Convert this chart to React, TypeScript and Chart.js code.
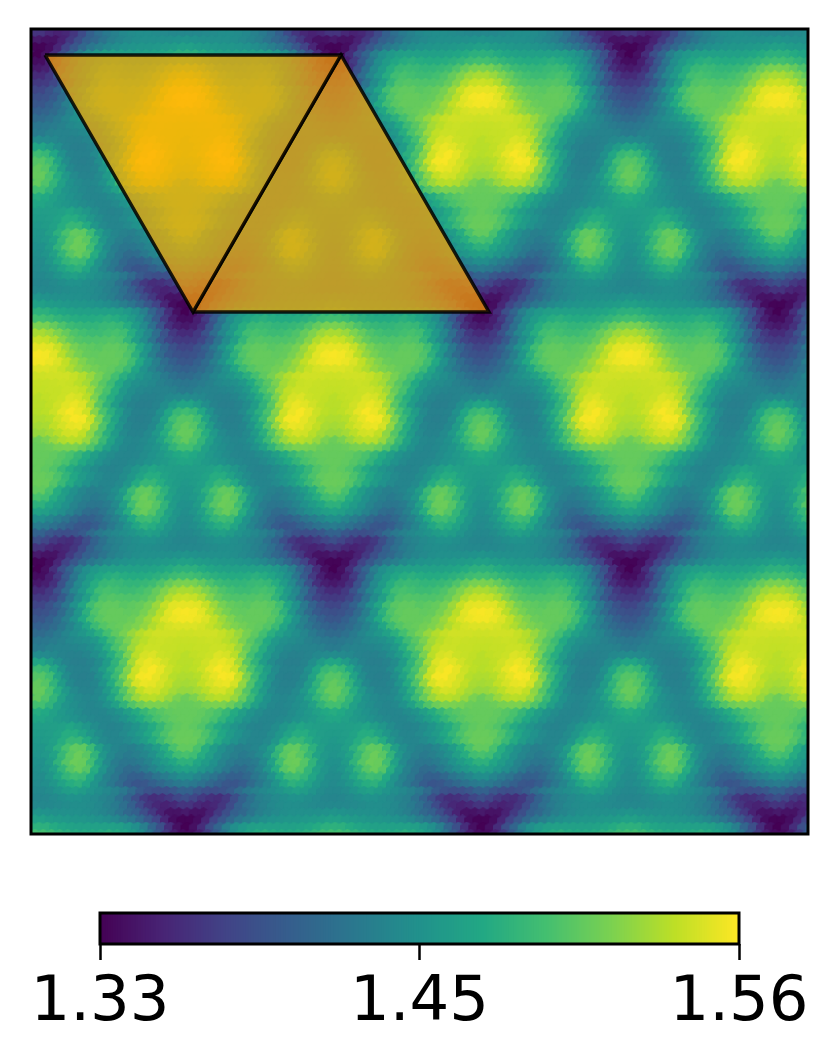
import React, { useEffect, useRef } from "react";
import { Chart, registerables } from "chart.js";

Chart.register(...registerables);

// Values in thousandths above 1.300, read off one repeat of the pattern
// (left half; the pattern mirrors about its vertical axes). Rows alternate 19 / 18 entries.
const tileRows: number[][] = [
  [30,40,60,85,105,128,143,152,158,160,160,160,160,160,162,165,170,175,176],
  [38,50,70,95,120,142,155,165,172,175,172,170,170,172,175,180,186,190],
  [45,50,62,88,115,138,155,172,182,185,183,180,180,182,186,195,205,212,214],
  [58,68,88,112,135,152,172,188,192,190,186,186,190,195,205,215,225,230],
  [68,70,78,95,118,140,158,180,195,198,196,195,195,198,205,218,232,240,242],
  [78,88,102,122,145,165,188,200,203,203,200,202,205,212,226,240,250,252],
  [85,88,95,110,128,150,175,195,203,205,205,203,205,212,222,236,250,256,258],
  [92,100,112,128,146,168,188,200,205,205,205,208,216,226,238,248,254,256],
  [100,104,110,120,132,146,165,185,197,203,206,210,215,222,232,240,246,248,248],
  [110,116,124,134,142,150,160,174,190,202,212,224,234,240,244,244,244,243],
  [120,122,126,130,136,140,144,152,168,186,200,214,228,236,241,242,241,240,240],
  [125,130,132,132,134,136,142,152,172,192,206,226,238,242,242,240,240,239],
  [140,138,136,132,130,130,134,142,154,172,190,214,236,246,248,242,240,238,236],
  [165,155,142,132,128,128,132,140,156,178,200,228,248,254,250,244,238,236],
  [188,182,166,145,132,130,130,138,155,174,193,218,243,254,258,252,242,237,235],
  [198,188,162,140,130,128,130,142,162,185,212,240,256,258,252,244,235,232],
  [204,198,178,155,136,130,130,134,148,170,195,222,246,254,252,246,238,230,228],
  [205,192,172,152,138,132,132,138,154,174,198,220,238,246,244,236,228,224],
  [204,195,180,160,145,138,135,136,145,162,184,206,224,234,236,232,224,214,208],
  [190,178,160,148,142,136,134,136,146,160,178,196,208,214,214,212,208,206],
  [172,168,160,152,146,140,135,134,135,140,147,158,170,182,193,199,203,205,205],
  [165,160,154,150,146,140,136,134,134,138,146,156,168,180,192,199,203,205],
  [157,157,158,160,165,158,150,140,134,132,134,140,148,158,170,182,196,202,205],
  [155,157,162,172,172,162,150,140,134,134,138,146,154,166,180,194,203,206],
  [152,155,160,172,182,182,170,150,138,134,134,138,146,156,170,184,198,206,207],
  [150,158,175,192,203,202,185,158,142,134,130,128,135,144,156,172,192,203],
  [148,152,162,182,200,208,200,178,150,136,128,124,128,135,144,158,172,188,192],
  [145,155,178,198,208,206,188,160,138,126,120,120,125,133,145,155,165,176],
  [142,148,160,180,198,206,198,172,148,130,118,110,112,122,132,142,150,158,162],
  [140,150,165,180,188,185,168,146,130,120,108,100,100,108,118,126,134,142],
  [138,142,150,162,172,176,165,148,134,122,110,98,90,92,100,108,116,122,126],
  [136,140,148,156,160,155,148,142,136,130,122,110,96,88,84,86,92,102],
  [134,135,138,142,146,146,142,138,133,128,116,102,84,68,60,62,68,78,85],
  [136,136,138,140,142,142,140,136,130,124,114,100,82,66,56,52,56,64],
  [148,146,144,144,144,144,142,138,134,128,118,108,100,84,68,52,42,42,46],
  [160,156,154,152,150,150,148,146,142,136,128,120,108,92,76,54,38,32],
];

const colorbarTicks = [1.33, 1.445, 1.56];
const colorbarLabels = ["1.33", "1.45", "1.56"];
const vMin = 1.33;
const vMax = 1.56;

// Triangles overlaid on the map, in map units (pixels of the plot box).
const triangleA = [{ x: 14, y: 26 }, { x: 310, y: 26 }, { x: 162, y: 283 }, { x: 14, y: 26 }];
const triangleB = [{ x: 162, y: 283 }, { x: 310, y: 26 }, { x: 458, y: 283 }, { x: 162, y: 283 }];

const viridisStops = [
  [68, 1, 84], [72, 36, 117], [65, 68, 135], [53, 95, 141], [42, 120, 142], [33, 145, 140],
  [34, 168, 132], [68, 191, 112], [122, 209, 81], [189, 223, 38], [253, 231, 37],
];

const PLOT_W = 777;
const PLOT_H = 805;
const ORIGIN_X = 156;
const ORIGIN_Y = 285;
const CELL_W = 296 / 36;
const CELL_H = 257.5 / 36;
const HEX_R = 7.5;

function viridis(t: number): string {
  const c = Math.min(1, Math.max(0, t)) * 10;
  const i = Math.min(9, Math.floor(c));
  const f = c - i;
  const a = viridisStops[i];
  const b = viridisStops[i + 1];
  return `rgb(${Math.round(a[0] + (b[0] - a[0]) * f)},${Math.round(a[1] + (b[1] - a[1]) * f)},${Math.round(a[2] + (b[2] - a[2]) * f)})`;
}

function hexSprites(): HTMLCanvasElement[] {
  const out: HTMLCanvasElement[] = [];
  const size = Math.ceil(HEX_R * 2);
  for (let i = 0; i < 256; i++) {
    const cv = document.createElement("canvas");
    cv.width = size;
    cv.height = size;
    const c = cv.getContext("2d")!;
    c.fillStyle = viridis(i / 255);
    c.beginPath();
    for (let k = 0; k < 6; k++) {
      const ang = Math.PI / 6 + (k * Math.PI) / 3;
      const px = size / 2 + HEX_R * Math.cos(ang);
      const py = size / 2 + HEX_R * Math.sin(ang);
      if (k === 0) c.moveTo(px, py);
      else c.lineTo(px, py);
    }
    c.closePath();
    c.fill();
    out.push(cv);
  }
  return out;
}

function readCell(row: number, col: number): number {
  const q = Math.floor(row / 36);
  const rr = row - 36 * q;
  const half = tileRows[rr];
  const odd = rr % 2 === 1;
  const k = (((col - 18 * q) % 36) + 36) % 36;
  const m = odd ? (k <= 17 ? half[k] : half[35 - k]) : k <= 18 ? half[k] : half[36 - k];
  return 1.3 + m / 1000;
}

function buildCells() {
  const pts: { x: number; y: number; v: number }[] = [];
  for (let r = -41; r <= 75; r++) {
    for (let k = -24; k <= 80; k++) {
      const x = ORIGIN_X + (k + (Math.abs(r) % 2 === 1 ? 0.5 : 0)) * CELL_W;
      const y = ORIGIN_Y + r * CELL_H;
      if (x < -10 || x > PLOT_W + 10 || y < -10 || y > PLOT_H + 10) continue;
      pts.push({ x, y, v: readCell(r, k) });
    }
  }
  return pts;
}

export default function App() {
  const mapRef = useRef<HTMLCanvasElement>(null);
  const barRef = useRef<HTMLCanvasElement>(null);

  useEffect(() => {
    const sprites = hexSprites();
    const frame = {
      id: "frame",
      afterDraw(chart: any) {
        const { left, top, width, height } = chart.chartArea;
        const c = chart.ctx;
        c.save();
        c.strokeStyle = "#000";
        c.lineWidth = 3;
        c.strokeRect(left, top, width, height);
        c.restore();
      },
    };
    const triangle = (data: any[]) => ({
      type: "scatter" as const,
      data,
      showLine: true,
      fill: "shape",
      backgroundColor: "rgba(255,165,0,0.7)",
      borderColor: "rgba(0,0,0,0.85)",
      borderWidth: 3.5,
      pointRadius: 0,
      order: 0,
      tension: 0,
      clip: 0,
    });
    const map = new Chart(mapRef.current!, {
      type: "scatter",
      data: {
        datasets: [
          triangle(triangleA),
          triangle(triangleB),
          {
            data: buildCells(),
            order: 1,
            clip: 0,
            pointRadius: HEX_R,
            pointStyle: (ctx: any) =>
              ctx.raw ? sprites[Math.round(Math.min(1, Math.max(0, (ctx.raw.v - vMin) / (vMax - vMin))) * 255)] : "circle",
          },
        ] as any,
      },
      options: {
        animation: false,
        responsive: false,
        events: [],
        layout: { padding: { left: 31, top: 29, right: 30, bottom: 46 } },
        plugins: { legend: { display: false }, tooltip: { enabled: false } },
        scales: {
          x: { type: "linear", min: 0, max: PLOT_W, display: false },
          y: { type: "linear", min: 0, max: PLOT_H, reverse: true, display: false },
        },
      },
      plugins: [frame],
    });

    const levels: number[] = [];
    for (let i = 0; i < 256; i++) levels.push(vMin + ((vMax - vMin) * i) / 255);
    const bar = new Chart(barRef.current!, {
      type: "bar",
      data: {
        datasets: [
          {
            data: levels.map((v) => ({ x: v, y: 1 })),
            backgroundColor: levels.map((_, i) => viridis(i / 255)),
            borderWidth: 0,
            barPercentage: 1,
            categoryPercentage: 1,
            barThickness: 3.5,
          },
        ] as any,
      },
      options: {
        animation: false,
        responsive: false,
        events: [],
        layout: { padding: { left: 100, top: 33, right: 99, bottom: 0 } },
        plugins: { legend: { display: false }, tooltip: { enabled: false } },
        scales: {
          x: {
            type: "linear",
            min: vMin,
            max: vMax,
            offset: false,
            afterFit: (s: any) => {
              s.height = 120;
            },
            afterBuildTicks: (s: any) => {
              s.ticks = colorbarTicks.map((value) => ({ value }));
            },
            border: { display: false },
            grid: { offset: false, drawOnChartArea: false, drawTicks: true, tickLength: 16, tickWidth: 2.5, color: "#000" },
            ticks: {
              autoSkip: false,
              maxRotation: 0,
              minRotation: 0,
              padding: 6,
              color: "#000",
              font: { family: "DejaVu Sans", size: 62.5 },
              callback: (_v: any, i: number) => colorbarLabels[i],
            },
          },
          y: { type: "linear", min: 0, max: 1, display: false },
        },
      },
      plugins: [frame],
    });
    return () => {
      map.destroy();
      bar.destroy();
    };
  }, []);

  return (
    <div style={{ position: "absolute", left: 0, top: 0, width: 838, height: 1064, background: "#fff" }}>
      <canvas ref={mapRef} width={838} height={880} style={{ position: "absolute", left: 0, top: 0 }} />
      <canvas ref={barRef} width={838} height={184} style={{ position: "absolute", left: 0, top: 880 }} />
    </div>
  );
}
